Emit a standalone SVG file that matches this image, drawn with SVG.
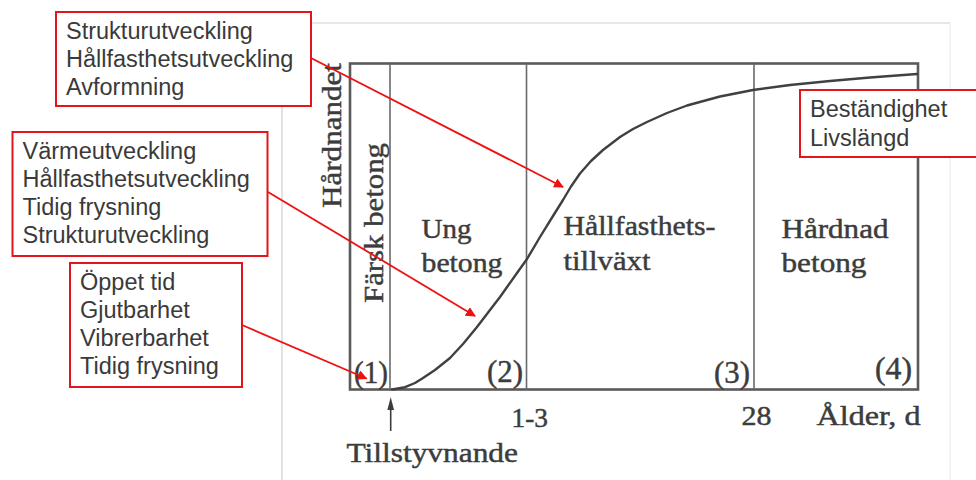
<svg xmlns="http://www.w3.org/2000/svg" width="976" height="480" viewBox="0 0 976 480">
<style>
.box{fill:#fff;stroke:#e3141b;stroke-width:2}
.bt{font-family:"Liberation Sans",Arial,sans-serif;font-size:23.5px;fill:#3a3a3a}
.ct{font-family:"Liberation Serif","Times New Roman",serif;font-size:27px;fill:#3c3c3c;stroke:#3c3c3c;stroke-width:0.45}
.pn{font-size:31px}
.ax{fill:none;stroke:#5a5a5a;stroke-width:2.6}
.dv{fill:none;stroke:#6a6a6a;stroke-width:1.6}
.cv{fill:none;stroke:#404040;stroke-width:2.4;stroke-linejoin:round;stroke-linecap:round}
.con{fill:none;stroke:#ee1111;stroke-width:1.8}
</style>
<defs>
<marker id="ah" viewBox="0 0 10 10" refX="9" refY="5" markerWidth="5.5" markerHeight="5.5" orient="auto" markerUnits="strokeWidth">
<path d="M0,0 L10,5 L0,10 z" fill="#ee1111"/>
</marker>
</defs>
<rect x="0" y="0" width="976" height="480" fill="#fff"/>
<g id="frame">
<path d="M282,480 V23 H950" fill="none" stroke="#cfcfcf" stroke-width="1.2"/>
<path d="M950,23 V480" fill="none" stroke="#ececec" stroke-width="1.2"/>
</g>
<g id="chart">
<rect x="350" y="63.5" width="568" height="326" class="ax"/>
<line x1="390" y1="63.5" x2="390" y2="389.5" class="dv"/>
<line x1="526.5" y1="63.5" x2="526.5" y2="389.5" class="dv"/>
<line x1="754" y1="63.5" x2="754" y2="389.5" class="dv"/>
<polyline class="cv" points="392,389.5 405,387.2 415,383 423,378 435,370 450,358 463,344 477,327 490,310 500,297 517,273 527,259 540,237 553,216 563,200 571,186.5 580,173.5 591,161 603,150 620,137 633,129 647,122 667,113 687,105.5 720,96.5 753,90 790,85 830,81 870,77.5 917,74"/>
<text class="ct" transform="translate(341,208) rotate(-90)" textLength="145" lengthAdjust="spacingAndGlyphs">Hårdnandet</text>
<text class="ct" transform="translate(383,303) rotate(-90)" textLength="160" lengthAdjust="spacingAndGlyphs">Färsk betong</text>
<text class="ct" x="421.5" y="238" textLength="50" lengthAdjust="spacingAndGlyphs">Ung</text>
<text class="ct" x="421.5" y="271.5" textLength="81" lengthAdjust="spacingAndGlyphs">betong</text>
<text class="ct" x="563.5" y="235" textLength="152" lengthAdjust="spacingAndGlyphs">Hållfasthets-</text>
<text class="ct" x="563.5" y="270" textLength="87" lengthAdjust="spacingAndGlyphs">tillväxt</text>
<text class="ct" x="781.5" y="238" textLength="107" lengthAdjust="spacingAndGlyphs">Hårdnad</text>
<text class="ct" x="781.5" y="271.5" textLength="85" lengthAdjust="spacingAndGlyphs">betong</text>
<text class="ct pn" x="354" y="383" textLength="34" lengthAdjust="spacingAndGlyphs">(1)</text>
<text class="ct pn" x="487" y="382" textLength="36" lengthAdjust="spacingAndGlyphs">(2)</text>
<text class="ct pn" x="714" y="383" textLength="36" lengthAdjust="spacingAndGlyphs">(3)</text>
<text class="ct pn" x="875" y="379" textLength="37" lengthAdjust="spacingAndGlyphs">(4)</text>
<text class="ct" x="511.5" y="426.5" textLength="36.5" lengthAdjust="spacingAndGlyphs">1-3</text>
<text class="ct" x="741.5" y="425" textLength="30" lengthAdjust="spacingAndGlyphs">28</text>
<text class="ct" x="816.5" y="425" textLength="104" lengthAdjust="spacingAndGlyphs">Ålder, d</text>
<text class="ct" x="346.5" y="461.5" textLength="171.5" lengthAdjust="spacingAndGlyphs">Tillstyvnande</text>
<line x1="390.7" y1="431" x2="390.7" y2="408" stroke="#3c3c3c" stroke-width="1.6"/>
<path d="M390.7,397 L394,410 L387.4,410 z" fill="#3c3c3c"/>
</g>
<g id="node-struktur">
<rect class="box" x="56" y="12" width="255" height="94"/>
<text class="bt" x="66" y="38.5">Strukturutveckling</text>
<text class="bt" x="66" y="67">Hållfasthetsutveckling</text>
<text class="bt" x="66" y="95">Avformning</text>
</g>
<g id="node-varme">
<rect class="box" x="12.5" y="132" width="255" height="124"/>
<text class="bt" x="22.5" y="158.5">Värmeutveckling</text>
<text class="bt" x="22.5" y="186.5">Hållfasthetsutveckling</text>
<text class="bt" x="22.5" y="214.5">Tidig frysning</text>
<text class="bt" x="22.5" y="242.5">Strukturutveckling</text>
</g>
<g id="node-oppet">
<rect class="box" x="70" y="263" width="172" height="124"/>
<text class="bt" x="80" y="289.5">Öppet tid</text>
<text class="bt" x="80" y="317.5">Gjutbarhet</text>
<text class="bt" x="80" y="345.5">Vibrerbarhet</text>
<text class="bt" x="80" y="374">Tidig frysning</text>
</g>
<g id="node-bestandighet">
<rect class="box" x="800" y="90" width="190" height="67"/>
<text class="bt" x="810" y="116.5">Beständighet</text>
<text class="bt" x="810" y="145.5">Livslängd</text>
</g>
<g id="connectors">
<line class="con" x1="311" y1="58" x2="563" y2="187" marker-end="url(#ah)"/>
<line class="con" x1="268" y1="192" x2="475" y2="316" marker-end="url(#ah)"/>
<line class="con" x1="242" y1="325" x2="366.5" y2="378.5" marker-end="url(#ah)"/>
</g>
</svg>
